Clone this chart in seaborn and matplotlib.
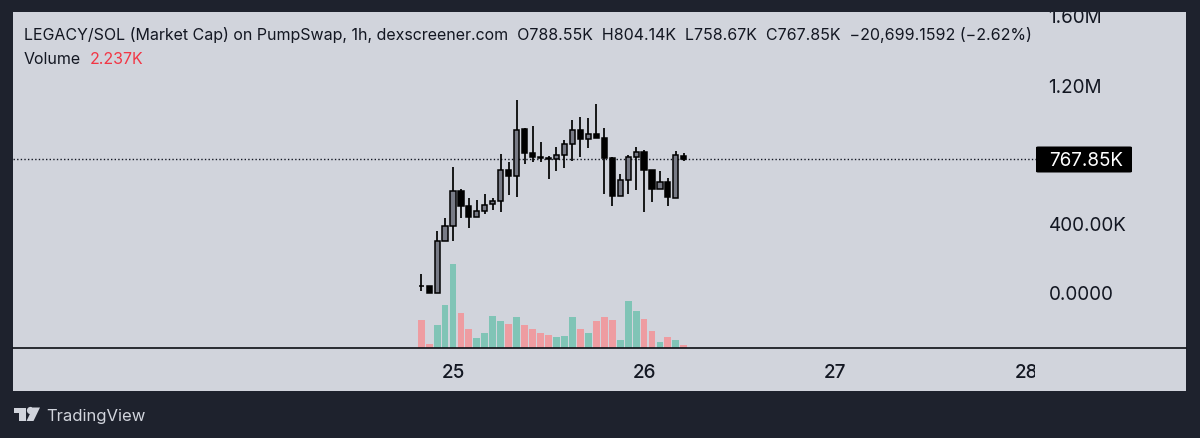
import matplotlib
matplotlib.use("Agg")
import matplotlib.pyplot as plt
import numpy as np
import pandas as pd
import seaborn as sns
from matplotlib.patches import Rectangle, FancyBboxPatch, Polygon
from matplotlib.transforms import Bbox

# Hourly bars; bar 4 is the start of day 25
opens  = [40, 37, 0, 297, 384, 586, 499, 436, 470, 511, 528, 707, 672, 943, 805, 782, 776,
          770, 793, 857, 938, 886, 915, 891, 776, 557, 649, 782, 811, 707, 597, 638, 545, 788.55]
highs  = [107, 37, 355, 430, 724, 597, 545, 534, 568, 545, 799, 753, 1111, 949, 961, 868, 788,
          840, 880, 995, 1013, 1007, 1088, 949, 782, 684, 793, 840, 822, 707, 701, 661, 816, 804.14]
lows   = [9, 0, 0, 297, 297, 430, 372, 436, 453, 476, 464, 563, 551, 741, 753, 753, 655,
          701, 718, 759, 782, 834, 891, 568, 499, 557, 568, 591, 464, 522, 597, 499, 545, 758.67]
closes = [37, 0, 297, 384, 586, 499, 436, 470, 505, 528, 707, 672, 938, 805, 782, 776, 773,
          793, 857, 938, 886, 915, 891, 776, 557, 649, 782, 811, 707, 597, 638, 551, 793, 767.85]
volumes = [21, 3, 17, 32, 63, 26, 14, 7.5, 11, 24, 20, 18, 23, 17, 14, 11, 10,
           8, 9, 23, 14, 11, 20, 23, 21, 6, 35, 28, 22, 13, 4.5, 8, 6, 2.237]
day_ticks = [4, 28, 52, 76]
day_labels = ["25", "26", "27", "28"]
price_ticks = [0, 400, 1200, 1600]
price_labels = ["0.0000", "400.00K", "1.20M", "1.60M"]
last_price = 767.85
header = ("LEGACY/SOL (Market Cap) on PumpSwap, 1h, dexscreener.com  O788.55K  H804.14K  "
          "L758.67K  C767.85K  \u221220,699.1592 (\u22122.62%)")

W, H = 1200, 439
BG, PANEL = "#1e222d", "#d1d4dc"
UP_BODY, DOWN_BODY = "#787b86", "#000000"
VOL_UP, VOL_DOWN = "#80c4b6", "#ee9ca1"
INK = "#131722"

sns.set_theme(style="white")
plt.rcParams["font.family"] = ["Inter", "DejaVu Sans"]

def fx(p): return p / W
def fy(p): return 1 - p / H
def box(x0, y0, x1, y1): return [fx(x0), fy(y1), fx(x1 - x0), fy(y0) - fy(y1)]

fig = plt.figure(figsize=(W / 100, H / 100), dpi=100, facecolor=BG)
fig.add_artist(Rectangle((fx(13), fy(391.5)), fx(1186 - 13), fy(13) - fy(391.5),
                         transform=fig.transFigure, fc=PANEL, ec="none", zorder=-5))

AX = (13, 13, 1036, 349)
vax = fig.add_axes(box(*AX), facecolor="none")
ax = fig.add_axes(box(*AX), facecolor="none")

df = pd.DataFrame({"i": np.arange(len(opens)), "o": opens, "h": highs, "l": lows,
                   "c": closes, "v": volumes})
df["dir"] = np.where(df.c >= df.o, "up", "down")

# volume
sns.barplot(data=df, x="i", y="v", hue="dir", palette={"up": VOL_UP, "down": VOL_DOWN},
            native_scale=True, dodge=False, width=0.86, saturation=1, legend=False,
            ax=vax, linewidth=0)
vax.set_ylim(0, 252)
vax.axis("off")

# candles
ax.vlines(df.i, df.l, df.h, color="#000000", lw=1.25, zorder=3)
for r in df.itertuples():
    bottom, top = min(r.o, r.c), max(r.o, r.c)
    ax.bar(r.i, max(top - bottom, 3), bottom=bottom, width=0.64,
           color=UP_BODY if r.dir == "up" else DOWN_BODY, edgecolor="#000000", lw=1.1, zorder=4)

XLIM = (4 + (13 - 453) / 7.96, 4 + (1036 - 453) / 7.96)
KPP = 5.77
YLIM = ((293.5 - 349) * KPP, (293.5 - 13) * KPP)
ax.set_xlim(*XLIM); vax.set_xlim(*XLIM)
ax.set_ylim(*YLIM)
ax.axhline(last_price, color="#131722", lw=1.0, ls=(0, (1, 1.6)), zorder=2)

for s in ax.spines.values():
    s.set_visible(False)
ax.yaxis.tick_right()
ax.set_yticks(price_ticks, price_labels)
ax.set_xticks(day_ticks, day_labels)
ax.tick_params(axis="both", length=0)
ax.tick_params(axis="y", pad=9, labelsize=13.6, labelcolor=INK)
ax.tick_params(axis="x", pad=11, labelsize=13.6, labelcolor=INK)
ax.set_xlabel(""); ax.set_ylabel("")
for lab in ax.get_xticklabels():
    lab.set_fontweight("medium")

clip_x = Bbox.from_extents(0, 0, 1035, H)
clip_y = Bbox.from_extents(0, 0, W, H - 13)
for t in ax.xaxis.get_major_ticks():
    t.label1.set_clip_box(clip_x); t.label1.set_clip_on(True)
for t in ax.yaxis.get_major_ticks():
    t.label2.set_clip_box(clip_y); t.label2.set_clip_on(True)

# baseline across whole panel
fig.add_artist(plt.Line2D([fx(13), fx(1186)], [fy(349.3)] * 2, color="#0c0e14", lw=1.2,
                          transform=fig.transFigure))

# last-price tag
fig.add_artist(FancyBboxPatch((fx(1036), fy(173.5)), fx(96), fy(147.5) - fy(173.5),
                              boxstyle="round,pad=0,rounding_size=0.002",
                              transform=fig.transFigure, fc="#000000", ec="none"))
fig.text(fx(1049), fy(161.5), "767.85K", color="white", fontsize=13.6, va="center", ha="left")

# header
fig.text(fx(24), fy(35), header, color=INK, fontsize=11.5, va="center", ha="left")
fig.text(fx(24), fy(59), "Volume", color=INK, fontsize=11.5, va="center", ha="left")
fig.text(fx(90), fy(59), "2.237K", color="#f23645", fontsize=11.5, va="center", ha="left")

# logo
def poly(pts):
    fig.add_artist(Polygon([(fx(x), fy(y)) for x, y in pts], closed=True, fc=PANEL, ec="none",
                           transform=fig.transFigure))
poly([(13.5, 408.5), (26, 408.5), (26, 422), (18.5, 422), (18.5, 414), (13.5, 414)])
poly([(33, 408.5), (40, 408.5), (33.5, 422), (26.5, 422)])
fig.add_artist(plt.Line2D([fx(29.5)], [fy(411)], marker="o", ms=5.2, mfc=PANEL, mec="none",
                          transform=fig.transFigure))
fig.text(fx(46), fy(417), "TradingView", color=PANEL, fontsize=12.0, va="center", ha="left")

fig.savefig("out.png", dpi=100, facecolor=BG)
